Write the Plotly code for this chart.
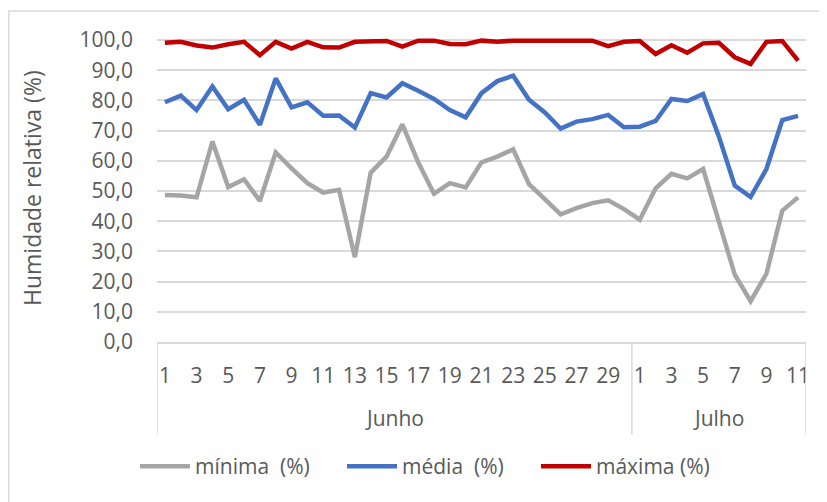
import plotly.graph_objects as go

months = ["Junho", "Julho"]
junho_days = list(range(1, 31))
julho_days = list(range(1, 12))

minima = [48.7, 48.5, 47.9, 66.4, 51.3, 53.9, 46.7, 62.8, 57.5, 52.6,
          49.5, 50.4, 28.1, 56.1, 61.4, 72.1, 59.5, 49.1, 52.6, 51.2,
          59.5, 61.4, 63.8, 52.3, 47.3, 42.3, 44.3, 46.0, 46.9, 44.0,
          40.5, 50.9, 55.7, 54.2, 57.3, 39.4, 22.3, 13.5, 22.6, 43.5, 47.9]
media = [79.4, 81.6, 76.8, 84.6, 77.1, 80.2, 71.9, 87.3, 77.7, 79.4,
         74.9, 75.0, 71.0, 82.4, 81.0, 85.7, 83.2, 80.5, 76.8, 74.4,
         82.4, 86.4, 88.2, 80.2, 76.0, 70.7, 73.0, 73.8, 75.2, 71.1,
         71.3, 73.2, 80.5, 79.8, 82.1, 68.0, 51.8, 48.0, 57.3, 73.5, 74.9]
maxima = [99.1, 99.4, 98.2, 97.5, 98.6, 99.4, 95.0, 99.4, 97.2, 99.4,
          97.6, 97.5, 99.4, 99.7, 99.7, 97.8, 99.8, 99.8, 98.7, 98.6,
          99.8, 99.4, 99.8, 99.8, 99.8, 99.8, 99.8, 99.8, 98.0, 99.4,
          99.7, 95.4, 98.3, 95.8, 98.9, 99.1, 94.3, 92.1, 99.4, 99.7, 93.2]

series_names = ["mínima\u00a0 (%)", "média\u00a0 (%)", "máxima (%)"]
series_colors = ["#a5a5a5", "#4472c4", "#c00000"]
y_ticks = [0, 10, 20, 30, 40, 50, 60, 70, 80, 90, 100]

days = junho_days + julho_days
x = list(range(len(days)))
tickvals = [i for i, d in enumerate(days) if d % 2 == 1]
ticktext = [str(days[i]) for i in tickvals]

FONT = "Open Sans"
TXT = "#595959"
GRID = "#d9d9d9"
PAD = "\u00a0" * 5

fig = go.Figure()
for k, (name, vals, col) in enumerate(zip(series_names, [minima, media, maxima], series_colors)):
    label = name + (PAD if k < len(series_names) - 1 else "")
    fig.add_trace(go.Scatter(x=x, y=vals, mode="lines", name=label,
                             line=dict(color=col, width=4.5, shape="linear"),
                             hoverinfo="skip"))

n_jun = len(junho_days)
n_all = len(days)
shapes = []
for xv in [-0.5, n_jun - 0.5, n_all - 0.5]:
    shapes.append(dict(type="line", xref="x", yref="paper", x0=xv, x1=xv,
                       y0=0, y1=-0.30, line=dict(color=GRID, width=1.5)))
# chart area border (its right and bottom edges lie outside the picture)
shapes.append(dict(type="rect", xref="paper", yref="paper",
                   x0=-0.2284, x1=1.06, y0=-0.56, y1=1.0746,
                   line=dict(color=GRID, width=1.5), fillcolor="rgba(0,0,0,0)",
                   layer="above"))

annotations = [
    dict(text=months[0], x=(n_jun - 1) / 2, xref="x", y=-0.2455, yref="paper",
         xanchor="center", yanchor="middle",
         showarrow=False, font=dict(family=FONT, size=21, color=TXT)),
    dict(text=months[1], x=n_jun + (len(julho_days) - 1) / 2, xref="x", y=-0.2455,
         yref="paper", xanchor="center", yanchor="middle",
         showarrow=False, font=dict(family=FONT, size=21, color=TXT)),
    dict(text="Humidade relativa (%)", x=-0.1926, xref="paper", y=0.5, yref="paper",
         textangle=-90, showarrow=False, xanchor="center", yanchor="middle",
         font=dict(family=FONT, size=23, color=TXT)),
]

fig.update_layout(
    width=827, height=502,
    margin=dict(l=149, r=29, t=26, b=168),
    paper_bgcolor="white", plot_bgcolor="white",
    separators=",.",
    font=dict(family=FONT, size=21, color=TXT),
    showlegend=True,
    legend=dict(orientation="h", x=0.413, xanchor="center", y=-0.4045, yanchor="middle",
                font=dict(family=FONT, size=21, color=TXT), itemwidth=50,
                bgcolor="rgba(0,0,0,0)"),
    shapes=shapes,
    annotations=annotations,
    xaxis=dict(range=[-0.5, n_all - 0.5], tickmode="array", tickvals=tickvals,
               ticktext=ticktext, showgrid=False, zeroline=False,
               showline=True, linecolor=GRID, linewidth=1.5, ticks="",
               ticklabelstandoff=14, tickfont=dict(family=FONT, size=21, color=TXT)),
    yaxis=dict(range=[0, 102], tickmode="array", tickvals=y_ticks, tickformat=".1f",
               showgrid=True, gridcolor=GRID, gridwidth=1.5, zeroline=False,
               showline=False, ticks="", ticklabelstandoff=23,
               tickfont=dict(family=FONT, size=21, color=TXT)),
)

fig.write_html("out.html")
